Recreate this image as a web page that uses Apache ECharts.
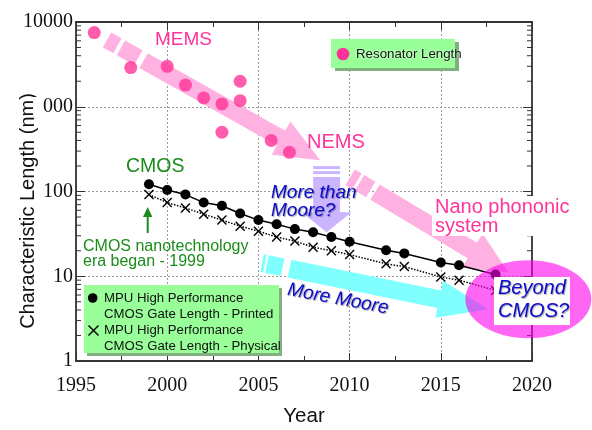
<!DOCTYPE html>
<html><head><meta charset="utf-8">
<script src="https://cdn.jsdelivr.net/npm/echarts@6/dist/echarts.min.js"></script>
<style>html,body{margin:0;padding:0;background:#fff}#c{width:592px;height:430px}</style>
</head><body><div id="c"></div>
<script>
// ---- data ----
const resonatorYears  = [1996, 1998, 2000, 2001, 2002, 2003, 2003, 2004, 2004, 2005.7, 2006.7];
const resonatorLength = [7500, 2900, 3000, 1800, 1270, 1080, 500, 2000, 1180, 400, 290];
const cmosYears    = [1999, 2000, 2001, 2002, 2003, 2004, 2005, 2006, 2007, 2008, 2009, 2010, 2012, 2013, 2015, 2016, 2018];
const gatePrinted  = [122, 104, 92, 74, 68, 55, 46, 41, 36, 33, 29, 25.5, 20.3, 18.6, 14.5, 13.5, 10.5];
const gatePhysical = [92, 74, 64, 54, 46, 39, 34, 29, 26, 22, 20, 18, 14, 13, 9.8, 9, 6.8];
const xTickLabels = ['1995', '2000', '2005', '2010', '2015', '2020'];
const yTickLabels = ['1', '10', '100', '1000', '10000'];
const minorLogTicks = [2,3,4,5,6,7,8,9, 20,30,40,50,60,70,80,90, 200,300,400,500,600,700,800,900, 2000,3000,4000,5000,6000,7000,8000,9000];

// annotation anchors in data coordinates [year, nm]
const memsArrow   = [[1996.70, 6131], [2008.39, 234]];
const nemsArrow   = [[2010.03, 147.6], [2018.70, 11.16]];
const mooreArrow  = [[2005.20, 14.3], [2017.60, 4.08]];
const mtmArrow    = [[2008.74, 199.3], [2008.74, 33.1]];
const beyondCenter = [2019.80, 5.355];

const chart = echarts.init(document.getElementById('c'), null, {renderer: 'canvas'});
const serif = 'Liberation Serif, Times New Roman, serif';
const sans = 'Liberation Sans, Arial, Helvetica, sans-serif';
const axisColor = '#333';
const crossPath = 'path://M0,1 L1,0 L5,4 L9,0 L10,1 L6,5 L10,9 L9,10 L5,6 L1,10 L0,9 L4,5 Z';

const pair = (xs, ys) => xs.map((x, i) => [x, ys[i]]);

const option = {
  animation: false,
  backgroundColor: '#fff',
  grid: {left: 76, right: 60, top: 22, bottom: 69, containLabel: false},
  xAxis: [{
    type: 'value', min: 1995, max: 2020, interval: 5, position: 'bottom',
    axisLine: {show: true, onZero: false, lineStyle: {color: axisColor, width: 1.8}},
    axisTick: {show: true, inside: true, length: 8, lineStyle: {color: axisColor, width: 1}},
    minorTick: {show: true, splitNumber: 2, length: 5, lineStyle: {color: axisColor, width: 1}},
    axisLabel: {margin: 15, fontFamily: serif, fontSize: 20, color: '#111',
      formatter: v => xTickLabels.includes(String(v)) ? String(v) : ''},
    splitLine: {show: true, lineStyle: {color: '#9a9a9a', width: 1, type: [2, 2]}}
  }, {
    type: 'value', min: 1995, max: 2020, interval: 5, position: 'top',
    axisLine: {show: true, onZero: false, lineStyle: {color: axisColor, width: 1.8}},
    axisTick: {show: true, inside: true, length: 8, lineStyle: {color: axisColor, width: 1}},
    minorTick: {show: true, splitNumber: 2, length: 5, lineStyle: {color: axisColor, width: 1}},
    axisLabel: {show: false}, splitLine: {show: false}
  }],
  yAxis: [{
    type: 'log', logBase: 10, min: 1, max: 10000, position: 'left',
    axisLine: {show: true, onZero: false, lineStyle: {color: axisColor, width: 1.8}},
    axisTick: {show: true, inside: true, length: 9, lineStyle: {color: axisColor, width: 1}},
    axisLabel: {margin: 3, fontFamily: serif, fontSize: 20, color: '#111',
      formatter: v => { const s = String(Math.round(v)); return yTickLabels.includes(s) ? s : ''; }},
    splitLine: {show: true, lineStyle: {color: '#9a9a9a', width: 1, type: [2, 2]}}
  }, {
    type: 'log', logBase: 10, min: 1, max: 10000, position: 'right',
    axisLine: {show: true, onZero: false, lineStyle: {color: axisColor, width: 1.8}},
    axisTick: {show: true, inside: true, length: 9, lineStyle: {color: axisColor, width: 1}},
    axisLabel: {show: false}, splitLine: {show: false}
  }],
  series: [{
    name: 'Resonator Length', type: 'scatter', xAxisIndex: 0, yAxisIndex: 0,
    data: pair(resonatorYears, resonatorLength),
    symbol: 'circle', symbolSize: 13, itemStyle: {color: '#ff3399'}, z: 3
  }, {
    name: 'MPU High Performance CMOS Gate Length - Printed', type: 'line',
    data: pair(cmosYears, gatePrinted), symbol: 'circle', symbolSize: 10, showAllSymbol: true,
    itemStyle: {color: '#000'}, lineStyle: {color: '#000', width: 1.5}, z: 3
  }, {
    name: 'MPU High Performance CMOS Gate Length - Physical', type: 'line',
    data: pair(cmosYears, gatePhysical), symbol: crossPath, symbolSize: 10, showAllSymbol: true,
    itemStyle: {color: '#000'}, lineStyle: {color: '#000', width: 1.5, type: 'dotted'}, z: 3
  }, {
    name: 'minor log ticks', type: 'custom', silent: true, clip: false, z: 4,
    data: minorLogTicks.map(v => [1995, v]),
    renderItem: (params, api) => {
      const v = api.value(1);
      const pL = api.coord([1995, v]);
      const pR = api.coord([2020, v]);
      return {type: 'group', children: [
        {type: 'line', shape: {x1: pL[0], y1: pL[1], x2: pL[0] + 5, y2: pL[1]}, style: {stroke: axisColor, lineWidth: 1}},
        {type: 'line', shape: {x1: pR[0] - 5, y1: pR[1], x2: pR[0], y2: pR[1]}, style: {stroke: axisColor, lineWidth: 1}}
      ]};
    }
  }]
};
chart.setOption(option);

const toPx = p => chart.convertToPixel({xAxisIndex: 0, yAxisIndex: 0}, p);

function arrow(anchors, w, hw, hl, pieces, color, z) {
  const a = toPx(anchors[0]), b = toPx(anchors[1]);
  const dx = b[0] - a[0], dy = b[1] - a[1], L = Math.hypot(dx, dy);
  const ux = dx / L, uy = dy / L, nx = -uy, ny = ux;
  const pt = (s, o) => [a[0] + ux * s + nx * o, a[1] + uy * s + ny * o];
  const out = [];
  pieces.forEach(([s0, s1]) => {
    let pts;
    if (s1 === null) {
      const e = L - hl;
      pts = [pt(s0, -w / 2), pt(e, -w / 2), pt(e, -hw / 2), b, pt(e, hw / 2), pt(e, w / 2), pt(s0, w / 2)];
    } else {
      pts = [pt(s0, -w / 2), pt(s1, -w / 2), pt(s1, w / 2), pt(s0, w / 2)];
    }
    out.push({type: 'polygon', silent: true, z: z, shape: {points: pts}, style: {fill: color}});
  });
  return out;
}

const pink = '#ffb1e1', cyan = '#80ffff', lav = '#cbb5ff';
function txt(x, y, text, font, color, style, extra) {
  return Object.assign({
    type: 'text', x: x, y: y, z: 20, silent: true,
    style: Object.assign({text: text, font: font, fill: color, align: 'left', verticalAlign: 'middle'}, style || {})
  }, extra || {});
}
const blueShadow = {textShadowColor: 'rgba(0,0,0,0.35)', textShadowBlur: 1, textShadowOffsetX: 1, textShadowOffsetY: 1};
const ec = toPx(beyondCenter);
const line = (x1, y1, x2, y2, stroke, lw, z) => ({type: 'line', silent: true, z: z,
  shape: {x1: x1, y1: y1, x2: x2, y2: y2}, style: {stroke: stroke, lineWidth: lw}});

const graphic = [].concat(
  arrow(mooreArrow, 18, 38, 50, [[0, 3], [5, 21], [28, null]], cyan, 1),
  arrow(memsArrow, 17, 38, 45, [[0, 12], [16, 36], [42, null]], pink, 1),
  arrow(nemsArrow, 18, 40, 42, [[0, 8], [11, 24], [29, null]], pink, 1),
  arrow(mtmArrow, 27, 50, 20, [[0, 3], [5, 8], [11, null]], lav, 1),
  [
    {type: 'ellipse', silent: true, z: 10, shape: {cx: ec[0], cy: ec[1], rx: 63, ry: 39},
      style: {fill: 'rgba(255,0,235,0.6)'}},
    {type: 'rect', silent: true, z: 12, shape: {x: 494, y: 277, width: 76, height: 48}, style: {fill: '#fff'}},
    txt(498, 288.5, 'Beyond', 'italic 20px ' + sans, '#0a0acc', blueShadow),
    txt(498, 311, 'CMOS?', 'italic 20px ' + sans, '#0a0acc', blueShadow),

    txt(155, 40, 'MEMS', '19px ' + sans, '#ff3399'),
    txt(307, 142, 'NEMS', '20px ' + sans, '#ff3399'),
    txt(126, 166.5, 'CMOS', '19.5px ' + sans, '#1c8c1c'),
    txt(271, 193, 'More than', 'italic 19px ' + sans, '#0a0acc', blueShadow),
    txt(271, 211, 'Moore?', 'italic 19px ' + sans, '#0a0acc', blueShadow),
    txt(338, 299, 'More Moore', 'italic 19px ' + sans, '#0a0acc',
      Object.assign({align: 'center'}, blueShadow), {rotation: -0.185}),
    {type: 'rect', silent: true, z: 15, shape: {x: 432, y: 196, width: 152, height: 40}, style: {fill: '#fff'}},
    txt(435, 207, 'Nano phononic', '20px ' + sans, '#ff3399'),
    txt(435, 226.5, 'system', '20px ' + sans, '#ff3399'),
    txt(83, 246.5, 'CMOS nanotechnology', '16px ' + sans, '#1c8c1c'),
    txt(83, 261.5, 'era began - 1999', '16px ' + sans, '#1c8c1c'),
    line(147.7, 233, 147.7, 214, '#1c8c1c', 2, 20),
    {type: 'polygon', silent: true, z: 20, shape: {points: [[143, 217], [147.7, 207], [152.4, 217]]}, style: {fill: '#1c8c1c'}},

    // top legend
    {type: 'rect', silent: true, z: 18, shape: {x: 335, y: 42, width: 124, height: 29}, style: {fill: '#80b080'}},
    {type: 'rect', silent: true, z: 19, shape: {x: 331, y: 39, width: 124, height: 29}, style: {fill: '#99ff99'}},
    {type: 'circle', silent: true, z: 20, shape: {cx: 343, cy: 54, r: 6.3}, style: {fill: '#ff3399'}},
    txt(356, 54.5, 'Resonator Length', '13.3px ' + sans, '#111', {textShadowColor: '#fff', textShadowBlur: 2}),

    // bottom legend
    {type: 'rect', silent: true, z: 18, shape: {x: 87, y: 288, width: 195, height: 68}, style: {fill: '#80b080'}},
    {type: 'rect', silent: true, z: 19, shape: {x: 84, y: 285, width: 195, height: 68}, style: {fill: '#99ff99'}},
    {type: 'circle', silent: true, z: 20, shape: {cx: 92.7, cy: 298, r: 4.8}, style: {fill: '#000'}},
    line(88.5, 325.5, 98.5, 335.5, '#000', 1.4, 20),
    line(98.5, 325.5, 88.5, 335.5, '#000', 1.4, 20),
    txt(104, 298.3, 'MPU High Performance', '13.2px ' + sans, '#111'),
    txt(104, 314.3, 'CMOS Gate Length - Printed', '13.2px ' + sans, '#111'),
    txt(104, 330.7, 'MPU High Performance', '13.2px ' + sans, '#111'),
    txt(104, 346.3, 'CMOS Gate Length - Physical', '13.2px ' + sans, '#111'),

    // axis titles
    txt(28, 211, 'Characteristic Length (nm)', '20px ' + sans, '#111', {align: 'center'}, {rotation: Math.PI / 2}),
    {type: 'rect', silent: true, z: 21, shape: {x: 33, y: 97, width: 9, height: 20}, style: {fill: '#fff'}},
    txt(304, 416, 'Year', '20.5px ' + sans, '#111', {align: 'center'})
  ]
);
chart.setOption({graphic: graphic});
</script>
</body></html>
